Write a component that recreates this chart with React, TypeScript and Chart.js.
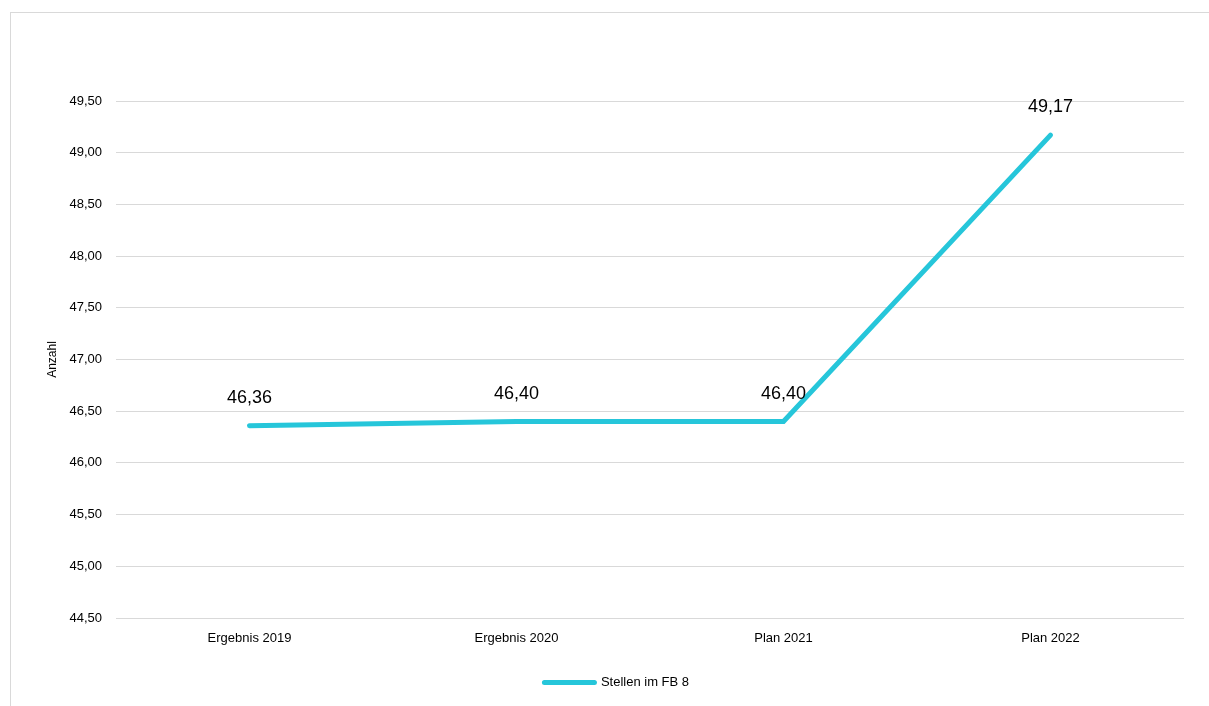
import React, { useEffect, useRef } from "react";
import { Chart, registerables } from "chart.js";

Chart.register(...registerables);

const categories = ["Ergebnis 2019", "Ergebnis 2020", "Plan 2021", "Plan 2022"];
const seriesName = "Stellen im FB 8";
const values = [46.36, 46.4, 46.4, 49.17];
const yMin = 44.5;
const yMax = 49.5;
const yStep = 0.5;
const axisTitle = "Anzahl";

const FONT = "Arial, 'Liberation Sans', sans-serif";
const LINE_COLOR = "#26C6DA";

const fmt = (v: number) => v.toFixed(2).replace(".", ",");

const dataLabels = {
  id: "dataLabels",
  afterDatasetsDraw(chart: any) {
    const ctx = chart.ctx;
    const meta = chart.getDatasetMeta(0);
    ctx.save();
    ctx.font = `18px ${FONT}`;
    ctx.fillStyle = "#000000";
    ctx.textAlign = "center";
    ctx.textBaseline = "middle";
    meta.data.forEach((pt: any, i: number) => {
      ctx.fillText(fmt(values[i]), pt.x, pt.y - 28);
    });
    ctx.restore();
  },
};

export default function App() {
  const ref = useRef<HTMLCanvasElement>(null);
  useEffect(() => {
    if (!ref.current) return;
    const chart = new Chart(ref.current, {
      type: "line",
      data: {
        labels: categories,
        datasets: [
          {
            label: seriesName,
            data: values,
            borderColor: LINE_COLOR,
            backgroundColor: LINE_COLOR,
            borderWidth: 5,
            borderCapStyle: "round",
            borderJoinStyle: "miter",
            pointRadius: 0,
            pointHoverRadius: 0,
            tension: 0,
          },
        ],
      },
      options: {
        responsive: false,
        animation: false,
        layout: { padding: { left: 49.5, right: 25, top: 101, bottom: 7 } },
        plugins: {
          tooltip: { enabled: false },
          legend: {
            display: true,
            position: "bottom",
            labels: {
              usePointStyle: true,
              pointStyle: "line",
              pointStyleWidth: 50,
              padding: 10,
              color: "#000000",
              font: { family: FONT, size: 13 },
              generateLabels: (c: any) =>
                Chart.defaults.plugins.legend.labels
                  .generateLabels(c)
                  .map((l: any) => ({ ...l, lineCap: "round", lineWidth: 5, strokeStyle: LINE_COLOR })),
            },
          },
        },
        scales: {
          x: {
            offset: true,
            grid: { display: false, drawTicks: false },
            border: { display: false },
            ticks: {
              color: "#000000",
              font: { family: FONT, size: 13 },
              padding: 13,
              maxRotation: 0,
            },
            afterFit: (s: any) => {
              s.height = 48;
            },
          },
          y: {
            min: yMin,
            max: yMax,
            grid: { color: "#d9d9d9", lineWidth: 1, drawTicks: false },
            border: { display: false },
            ticks: {
              stepSize: yStep,
              color: "#000000",
              font: { family: FONT, size: 13 },
              padding: 14,
              callback: (v: any) => fmt(Number(v)),
            },
            title: {
              display: true,
              text: axisTitle,
              color: "#000000",
              font: { family: FONT, size: 12 },
              padding: { top: -4, bottom: 0 },
            },
            afterFit: (s: any) => {
              s.width = 66.5;
            },
          },
        },
      },
      plugins: [dataLabels],
    } as any);
    return () => chart.destroy();
  }, []);

  return (
    <div
      style={{
        position: "fixed",
        left: 0,
        top: 0,
        width: 1209,
        height: 706,
        overflow: "hidden",
        background: "#ffffff",
      }}
    >
      <div
        style={{
          position: "absolute",
          left: 10,
          top: 12,
          width: 1400,
          height: 900,
          borderTop: "1px solid #d9d9d9",
          borderLeft: "1px solid #d9d9d9",
        }}
      />
      <canvas
        ref={ref}
        width={1209}
        height={706}
        style={{ position: "absolute", left: 0, top: 0, width: 1209, height: 706 }}
      />
    </div>
  );
}
